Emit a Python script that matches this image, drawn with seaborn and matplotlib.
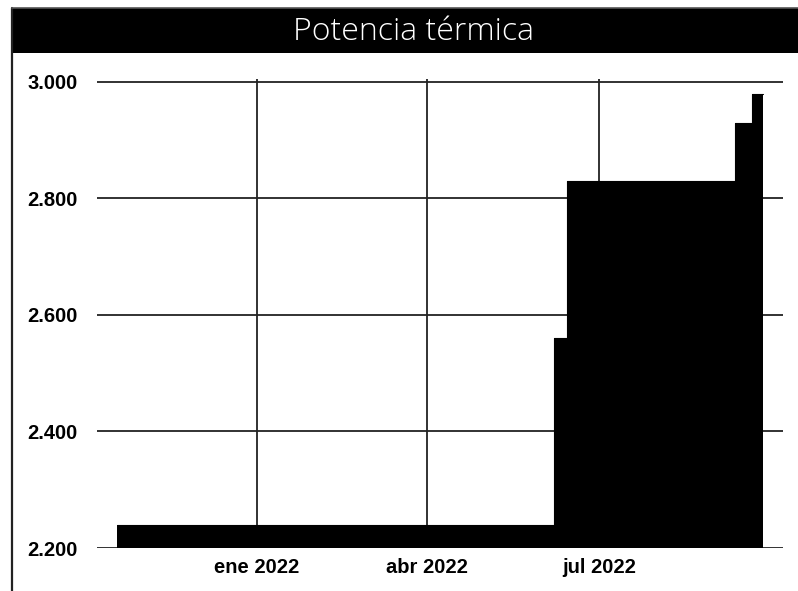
import matplotlib
matplotlib.use("Agg")
import matplotlib.pyplot as plt
from matplotlib.patches import Rectangle
from matplotlib.lines import Line2D
from matplotlib.ticker import FuncFormatter
import pandas as pd
import seaborn as sns

# Step series: thermal power (kW) from each change date onward
change_dates = ["2021-10-19", "2022-06-07", "2022-06-14", "2022-09-11", "2022-09-20", "2022-09-26"]
power_values = [2240, 2560, 2830, 2930, 2980, 2980]

tick_dates = ["2022-01-01", "2022-04-01", "2022-07-01"]
tick_labels = ["ene 2022", "abr 2022", "jul 2022"]
y_ticks = [2200, 2400, 2600, 2800, 3000]

title_text = "Potencia térmica"

df = pd.DataFrame({"fecha": pd.to_datetime(change_dates), "potencia": power_values})

sns.set_style("white")
plt.rcParams["font.family"] = ["Liberation Sans", "DejaVu Sans"]

W, H = 798, 591
fig = plt.figure(figsize=(W / 100, H / 100), dpi=100)

# axes box in pixel coordinates
ax_l, ax_r, ax_t, ax_b = 97, 783, 79, 548
ax = fig.add_axes([ax_l / W, 1 - ax_b / H, (ax_r - ax_l) / W, (ax_b - ax_t) / H])

ax.fill_between(df["fecha"], df["potencia"], 2200, step="post", color="black", linewidth=0, zorder=3)
sns.lineplot(data=df, x="fecha", y="potencia", drawstyle="steps-post", color="black",
             linewidth=0.8, ax=ax, zorder=3)

ax.set_xlim(pd.Timestamp("2021-10-08 08:00"), pd.Timestamp("2022-10-06 10:00"))
ax.set_ylim(2200, 3005)

ax.set_xticks(pd.to_datetime(tick_dates))
ax.set_xticklabels(tick_labels)
ax.set_yticks(y_ticks)
ax.yaxis.set_major_formatter(FuncFormatter(lambda v, p: f"{int(v):,}".replace(",", ".")))

ax.grid(True, color="#222222", linewidth=1.3, zorder=1)
ax.set_axisbelow(True)
for s in ax.spines.values():
    s.set_visible(False)
ax.tick_params(axis="both", length=0)
ax.tick_params(axis="y", pad=14)
ax.tick_params(axis="x", pad=7)
for lab in ax.get_xticklabels() + ax.get_yticklabels():
    lab.set_fontweight("bold")
    lab.set_fontsize(14.5)
    lab.set_color("black")
ax.set_xlabel("")
ax.set_ylabel("")

# title banner and left frame line
fig.patches.append(Rectangle((12 / W, 1 - 53 / H), (W - 12) / W, 45 / H, transform=fig.transFigure,
                             facecolor="black", edgecolor="none", zorder=0))
fig.lines.append(Line2D([12 / W, 12 / W], [0, 1 - 8 / H], transform=fig.transFigure,
                        color="#222222", linewidth=1.6))
fig.lines.append(Line2D([12 / W, 1], [1 - 7.5 / H, 1 - 7.5 / H], transform=fig.transFigure,
                        color="#555555", linewidth=1.2))
fig.text(413 / W, 1 - 32 / H, title_text, color="white", ha="center", va="center",
         fontsize=23, family=["Open Sans", "DejaVu Sans"], fontweight="light")

fig.savefig("out.png", dpi=100, facecolor="white")
